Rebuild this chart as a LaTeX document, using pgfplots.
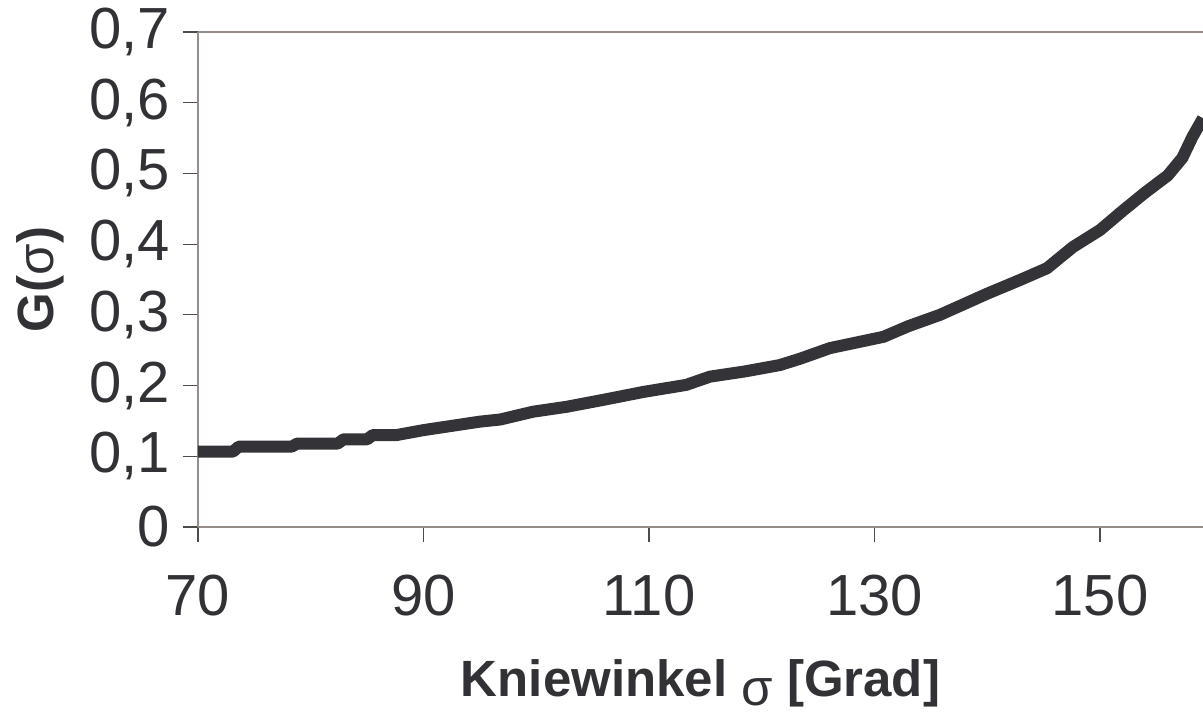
\documentclass[border=0pt]{standalone}
\usepackage{pgfplots}
\pgfplotsset{compat=1.18}
\usepackage{fontspec}
\setmainfont{Liberation Sans}
\definecolor{frame}{RGB}{150,140,136}
\definecolor{curve}{RGB}{52,52,56}
\definecolor{txt}{RGB}{50,50,54}
\begin{document}
\begin{tikzpicture}
\useasboundingbox (-99pt,-94.5pt) rectangle (502.5pt,263.5pt);
\begin{axis}[
  at={(0,0)}, anchor=south west,
  scale only axis, width=502.5pt, height=247.5pt,
  xmin=70, xmax=159.13, ymin=0, ymax=0.7,
  axis lines=left, axis line style={frame, line width=1.3pt, -},
  xtick={70,90,110,130,150}, xticklabels={70,90,110,130,150},
  ytick={0,0.1,0.2,0.3,0.4,0.5,0.6,0.7},
  yticklabels={0,{0,1},{0,2},{0,3},{0,4},{0,5},{0,6},{0,7}},
  tick align=outside, major tick length=7.5pt,
  tick style={line width=0.6pt, color=black!70},
  ticklabel style={font=\fontsize{29}{33}\selectfont, text=txt},
  yticklabel style={xshift=-3pt},
  xticklabel style={yshift=-13pt},
  xlabel={\textbf{Kniewinkel} \raisebox{-4.5pt}{σ} \textbf{[Grad]}},
  ylabel={\textbf{G(}σ\textbf{)}},
  label style={font=\fontsize{25.5}{29}\selectfont, text=txt},
  xlabel style={at={(axis description cs:0.5,0)}, anchor=base, yshift=-84.5pt},
  ylabel style={at={(axis description cs:0,0.5)}, anchor=center, yshift=79pt},
  clip=false,
]
\draw[frame, line width=1.3pt] (rel axis cs:0,1) -- (rel axis cs:1.01,1);
\addplot[curve, line width=6pt, line join=round] coordinates {
(70,0.1065) (73.1,0.1065) (73.6,0.1136) (78.3,0.1136) (78.8,0.118) (82.4,0.118)
(82.9,0.124) (85,0.124) (85.5,0.130) (87.6,0.130) (90,0.137) (92.5,0.143) (95,0.149)
(96.8,0.152) (99.7,0.163) (102.7,0.170) (106,0.180) (109.5,0.191) (113.3,0.201)
(115.4,0.2126) (118.5,0.220) (121.6,0.229) (123.4,0.238) (126.05,0.253) (130.8,0.269)
(133,0.284) (135.8,0.300) (140,0.330) (143,0.350) (145.3,0.366) (147.6,0.396)
(150,0.420) (152,0.447) (154,0.473) (156,0.497) (157.3,0.522) (158.2,0.552) (159.13,0.578)
};
\end{axis}
\end{tikzpicture}
\end{document}
